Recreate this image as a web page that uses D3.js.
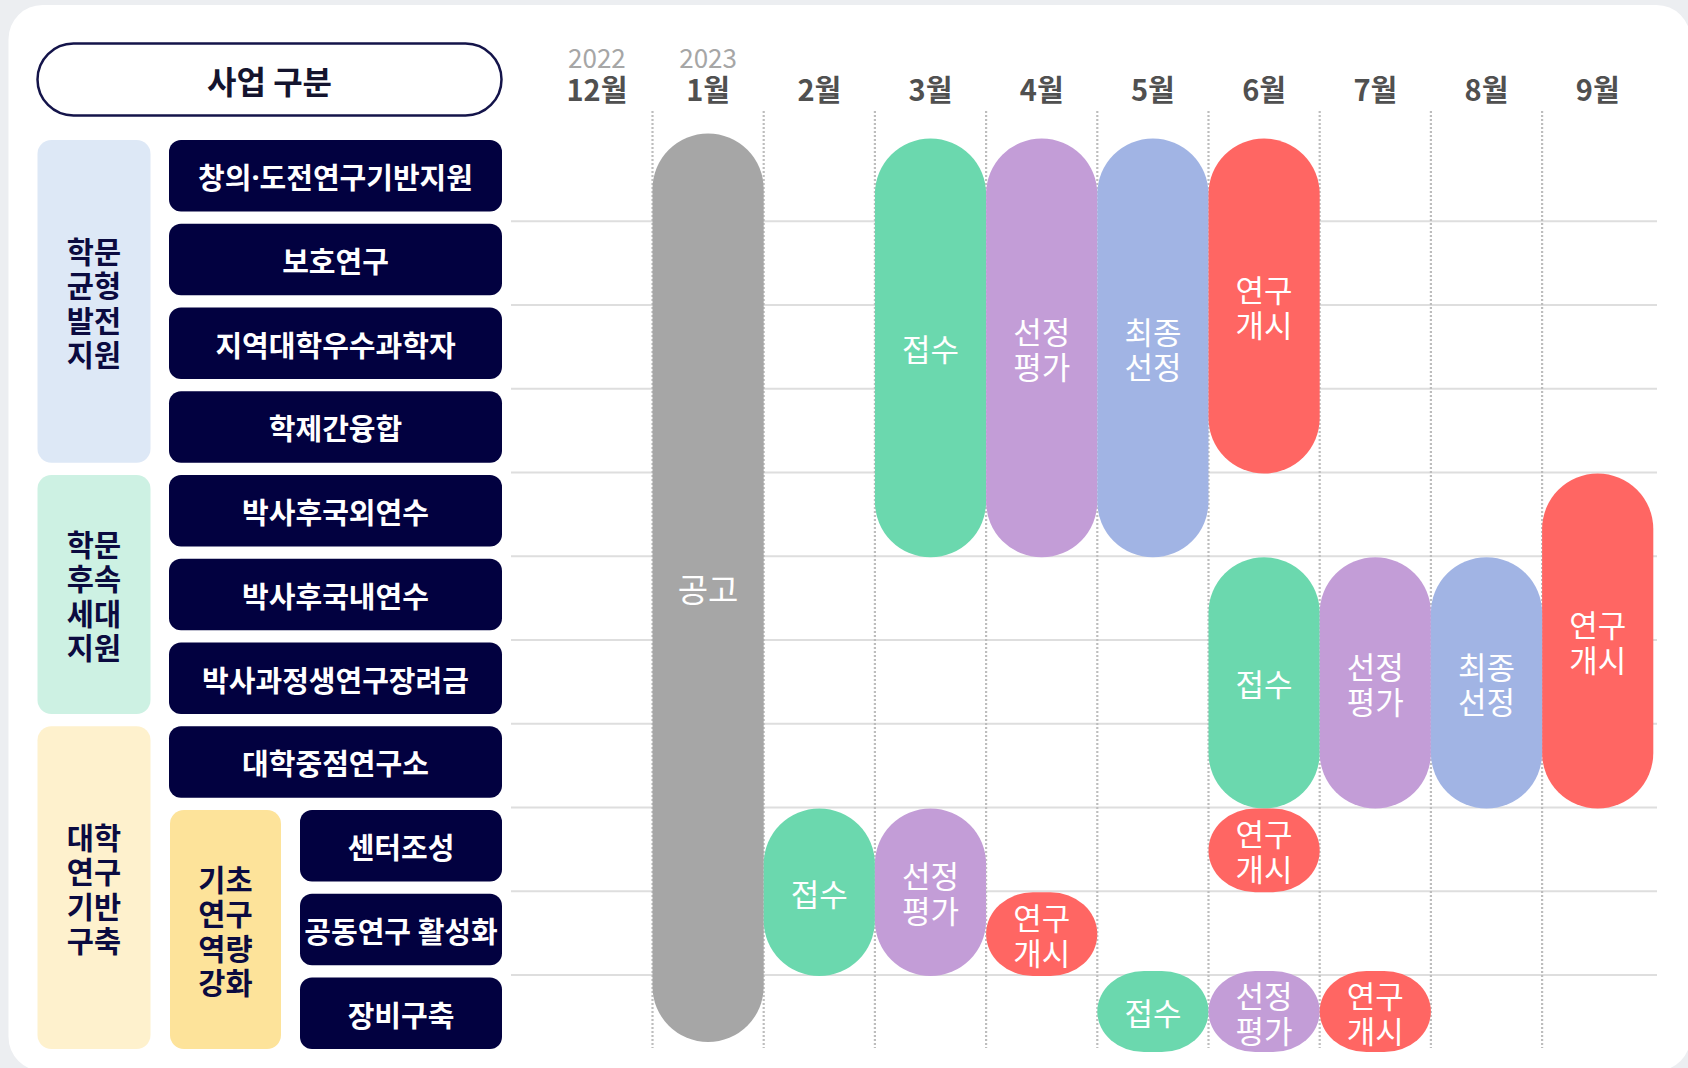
<!DOCTYPE html>
<html>
<head>
<meta charset="utf-8">
<script src="https://cdn.jsdelivr.net/npm/d3@7"></script>
<style>
  html, body { margin: 0; padding: 0; background: #eceef1; }
  svg { display: block; }
  text { font-family: "Noto Sans CJK KR", "Noto Sans", sans-serif; }
</style>
</head>
<body>
<div id="chart"></div>
<script>
// months on the x axis, with the year shown above the first month of each year
const months = ["12월", "1월", "2월", "3월", "4월", "5월", "6월", "7월", "8월", "9월"];
const yearLabels = [
  { month: "12월", year: "2022" },
  { month: "1월", year: "2023" },
];

// programme rows, top to bottom
const programs = [
  "창의·도전연구기반지원",
  "보호연구",
  "지역대학우수과학자",
  "학제간융합",
  "박사후국외연수",
  "박사후국내연수",
  "박사과정생연구장려금",
  "대학중점연구소",
  "센터조성",
  "공동연구 활성화",
  "장비구축",
];

// row groups (first, last row index)
const groups = [
  { name: ["학문", "균형", "발전", "지원"], from: 0, to: 3 },
  { name: ["학문", "후속", "세대", "지원"], from: 4, to: 6 },
  { name: ["대학", "연구", "기반", "구축"], from: 7, to: 10 },
];
const subGroups = [
  { name: ["기초", "연구", "역량", "강화"], from: 8, to: 10 },
];

const phases = ["공고", "접수", "선정평가", "최종선정", "연구개시"];

// schedule: phase, month, first row, last row
const schedule = [
  { phase: "공고", month: "1월", from: 0, to: 10 },
  { phase: "접수", month: "3월", from: 0, to: 4 },
  { phase: "선정평가", month: "4월", from: 0, to: 4 },
  { phase: "최종선정", month: "5월", from: 0, to: 4 },
  { phase: "연구개시", month: "6월", from: 0, to: 3 },
  { phase: "연구개시", month: "9월", from: 4, to: 7 },
  { phase: "접수", month: "6월", from: 5, to: 7 },
  { phase: "선정평가", month: "7월", from: 5, to: 7 },
  { phase: "최종선정", month: "8월", from: 5, to: 7 },
  { phase: "접수", month: "2월", from: 8, to: 9 },
  { phase: "선정평가", month: "3월", from: 8, to: 9 },
  { phase: "연구개시", month: "6월", from: 8, to: 8 },
  { phase: "연구개시", month: "4월", from: 9, to: 9 },
  { phase: "접수", month: "5월", from: 10, to: 10 },
  { phase: "선정평가", month: "6월", from: 10, to: 10 },
  { phase: "연구개시", month: "7월", from: 10, to: 10 },
];

const width = 1688;
const height = 1068;
const navy = "#020140";
const groupColors = ["#dde8f6", "#cdf1e3", "#fef1cd"];
const subGroupColor = "#fde39a";
const lastRow = programs.length - 1;

const color = d3.scaleOrdinal()
  .domain(phases)
  .range(["#a6a6a6", "#6bd8ae", "#c39dd7", "#a1b4e4", "#ff6663"]);

const x = d3.scaleBand().domain(months).range([541.3, 1653.3]);
const y = d3.scaleBand().domain(d3.range(programs.length)).range([137.5, 137.5 + 83.75 * programs.length]);

const svg = d3.select("#chart").append("svg")
  .attr("width", width)
  .attr("height", height);

// card
svg.append("rect")
  .attr("x", 8.5).attr("y", 5)
  .attr("width", 1682).attr("height", 1066)
  .attr("rx", 34)
  .attr("fill", "#fff");

// header pill
svg.append("rect")
  .attr("x", 37.5).attr("y", 43.5)
  .attr("width", 464).attr("height", 72)
  .attr("rx", 36)
  .attr("fill", "#fff")
  .attr("stroke", "#14144a")
  .attr("stroke-width", 2.5);
svg.append("text")
  .attr("x", 269.5).attr("y", 80)
  .attr("text-anchor", "middle")
  .attr("dominant-baseline", "central")
  .attr("font-size", 32)
  .attr("font-weight", 700)
  .attr("fill", "#14142e")
  .text("사업 구분");

// month and year labels
svg.append("g").selectAll("text")
  .data(months)
  .join("text")
  .attr("x", (d) => x(d) + x.bandwidth() / 2)
  .attr("y", 101)
  .attr("text-anchor", "middle")
  .attr("font-size", 29)
  .attr("font-weight", 700)
  .attr("fill", "#505050")
  .text((d) => d);

svg.append("g").selectAll("text")
  .data(yearLabels)
  .join("text")
  .attr("x", (d) => x(d.month) + x.bandwidth() / 2)
  .attr("y", 68)
  .attr("text-anchor", "middle")
  .attr("font-size", 26)
  .attr("fill", "#a6a6a6")
  .text((d) => d.year);

// horizontal row lines
svg.append("g").selectAll("line")
  .data(d3.range(1, programs.length))
  .join("line")
  .attr("x1", 511).attr("x2", 1657)
  .attr("y1", (d) => y(d)).attr("y2", (d) => y(d))
  .attr("stroke", "#dedede")
  .attr("stroke-width", 2);

// dotted month dividers
svg.append("g").selectAll("line")
  .data(months.slice(1))
  .join("line")
  .attr("x1", (d) => x(d)).attr("x2", (d) => x(d))
  .attr("y1", 111).attr("y2", 1048)
  .attr("stroke", "#bdbdbd")
  .attr("stroke-width", 2.2)
  .attr("stroke-dasharray", "2,2");

// group boxes
const groupG = svg.append("g");
function stackedLabel(parent, lines, cx, cy) {
  parent.append("text")
    .attr("text-anchor", "middle")
    .attr("font-size", 29.5)
    .attr("font-weight", 700)
    .attr("fill", "#0b0b40")
    .selectAll("tspan")
    .data(lines)
    .join("tspan")
    .attr("x", cx)
    .attr("y", (d, j) => cy + (j - (lines.length - 1) / 2) * 34.5)
    .attr("dominant-baseline", "central")
    .text((d) => d);
}

groups.forEach((g, i) => {
  const top = y(g.from) + 2.5;
  const bottom = y(g.to) + 74;
  groupG.append("rect")
    .attr("x", 37.5).attr("y", top)
    .attr("width", 113).attr("height", bottom - top)
    .attr("rx", 14)
    .attr("fill", groupColors[i]);
  stackedLabel(groupG, g.name, 94, (top + bottom) / 2);
});

subGroups.forEach((g) => {
  const top = y(g.from) + 2.5;
  const bottom = y(g.to) + 74;
  groupG.append("rect")
    .attr("x", 170).attr("y", top)
    .attr("width", 111).attr("height", bottom - top)
    .attr("rx", 14)
    .attr("fill", subGroupColor);
  stackedLabel(groupG, g.name, 225.5, (top + bottom) / 2);
});

// programme boxes
const inSub = (i) => subGroups.some((g) => i >= g.from && i <= g.to);
const progG = svg.append("g").selectAll("g")
  .data(programs)
  .join("g")
  .attr("transform", (d, i) => `translate(${inSub(i) ? 300 : 169},${y(i) + 2.5})`);

progG.append("rect")
  .attr("width", (d, i) => (inSub(i) ? 202 : 333))
  .attr("height", 71.5)
  .attr("rx", 12)
  .attr("fill", navy);

// the middle dot is set in a latin font so it stays narrow
progG.append("text")
  .attr("x", (d, i) => (inSub(i) ? 101 : 166.5))
  .attr("y", 36)
  .attr("text-anchor", "middle")
  .attr("dominant-baseline", "central")
  .attr("font-size", 29)
  .attr("font-weight", 700)
  .attr("fill", "#fff")
  .each(function (d) {
    const t = d3.select(this);
    d.split(/(·)/).forEach((part) => {
      const sp = t.append("tspan").text(part);
      if (part === "·") sp.style("font-family", "'Noto Sans', sans-serif");
    });
  });

// schedule bars
const barG = svg.append("g").selectAll("g")
  .data(schedule)
  .join("g");

barG.each(function (d) {
  const g = d3.select(this);
  const full = d.from === 0 && d.to === lastRow;
  const x0 = x(d.month);
  const w = x.bandwidth();
  let y0, y1;
  if (full) {
    y0 = y(d.from) - 4;
    y1 = y(d.to) + 67;
  } else if (d.to === lastRow) {
    y1 = y(d.to) + 77;
    y0 = d.from === lastRow ? y1 - 81 : y(d.from) + 1;
  } else {
    y0 = y(d.from) + 1;
    y1 = y(d.to) + y.bandwidth() + 1;
  }
  const h = y1 - y0;
  const tall = h > w * 1.3;
  g.append("rect")
    .attr("x", x0).attr("y", y0)
    .attr("width", w).attr("height", h)
    .attr("rx", tall ? w / 2 : w * 0.42)
    .attr("ry", tall ? w / 2 : h / 2)
    .attr("fill", color(d.phase));

  const lines = d.phase.length === 4
    ? [d.phase.slice(0, 2), d.phase.slice(2)]
    : [d.phase];
  const cy = (y0 + y1) / 2;
  g.append("text")
    .attr("text-anchor", "middle")
    .attr("font-size", full ? 33 : 31)
    .attr("font-weight", 400)
    .attr("fill", "#fff")
    .selectAll("tspan")
    .data(lines)
    .join("tspan")
    .attr("x", x0 + w / 2)
    .attr("y", (t, j) => cy + (j - (lines.length - 1) / 2) * 35)
    .attr("dominant-baseline", "central")
    .text((t) => t);
});
</script>
</body>
</html>
